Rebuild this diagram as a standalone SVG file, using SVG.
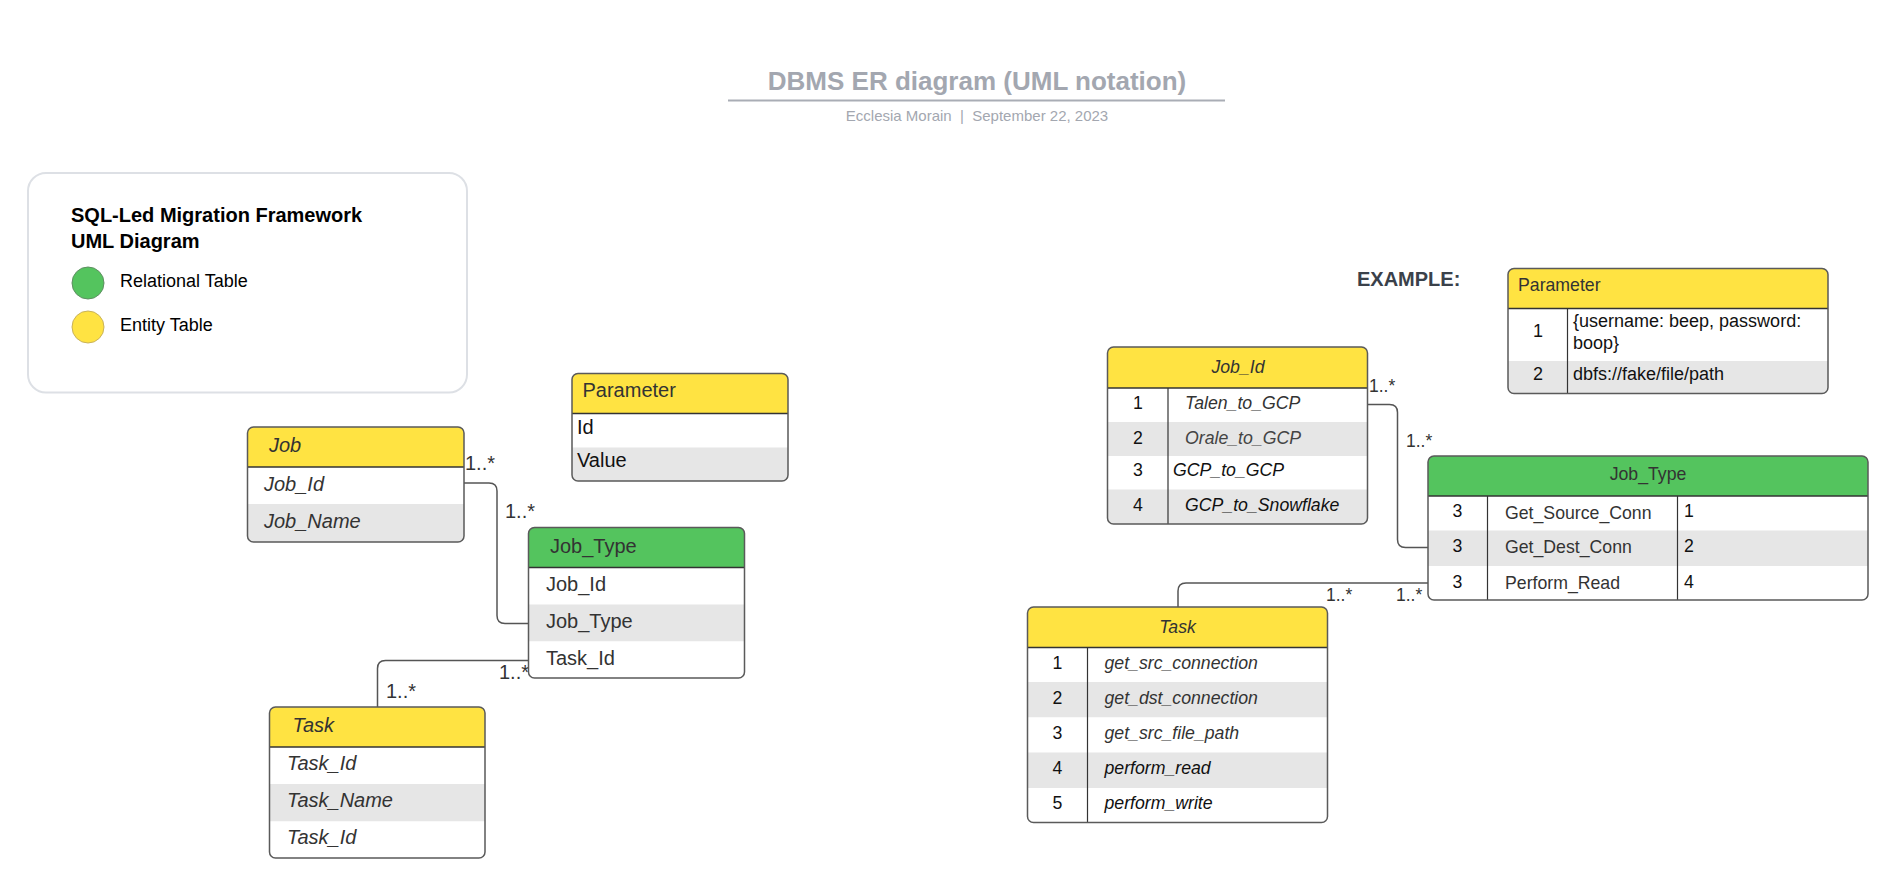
<svg xmlns="http://www.w3.org/2000/svg" width="1904" height="886" viewBox="0 0 1904 886">
<style>
text{font-family:"Liberation Sans",Arial,sans-serif;fill:#333}
.t{font-size:20px}
.r{font-size:17.7px}
.i{font-style:italic}
.k{fill:#111}
.c{text-anchor:middle}
.hy{fill:#ffe342}
.hg{fill:#54c45e}
.w{fill:#fff}
.g{fill:#e6e6e6}
.ol{fill:none;stroke:#5a5a5a;stroke-width:1.5}
.hl{stroke:#333;stroke-width:1.5}
.cl{stroke:#333;stroke-width:1.2}
.conn path{fill:none;stroke:#555;stroke-width:1.5}
.lbl{font-size:20px}
.lblr{font-size:17.5px}
</style>
<defs>
<clipPath id="cJob"><rect x="247.5" y="427" width="216.5" height="115" rx="6"/></clipPath>
<clipPath id="cJT"><rect x="528.5" y="527.5" width="216" height="150.5" rx="6"/></clipPath>
<clipPath id="cTask"><rect x="269.5" y="707" width="215.5" height="151" rx="6"/></clipPath>
<clipPath id="cPar"><rect x="572" y="373.5" width="216" height="107.5" rx="6"/></clipPath>
<clipPath id="cPar2"><rect x="1508" y="268.5" width="320" height="125" rx="6"/></clipPath>
<clipPath id="cJid"><rect x="1107.5" y="347" width="260" height="177" rx="6"/></clipPath>
<clipPath id="cJT2"><rect x="1428" y="456" width="440" height="144" rx="6"/></clipPath>
<clipPath id="cTask2"><rect x="1027.5" y="607" width="300" height="215.5" rx="6"/></clipPath>
</defs>
<rect width="1904" height="886" fill="#fff"/>

<g id="title">
<text x="977" y="90" text-anchor="middle" style="font-size:26px;font-weight:bold;fill:#a3a7b0">DBMS ER diagram (UML notation)</text>
<line x1="728" y1="100.5" x2="1225" y2="100.5" stroke="#a9adb5" stroke-width="2"/>
<text x="977" y="121" text-anchor="middle" style="font-size:15px;fill:#a3a7b0;white-space:pre">Ecclesia Morain  |  September 22, 2023</text>
</g>

<g id="legend">
<rect x="28" y="173" width="439" height="219.5" rx="18" fill="#fff" stroke="#dde0e5" stroke-width="2"/>
<text x="71" y="222" style="font-size:20px;font-weight:bold;fill:#000">SQL-Led Migration Framework</text>
<text x="71" y="248" style="font-size:20px;font-weight:bold;fill:#000">UML Diagram</text>
<circle cx="88" cy="283" r="16" fill="#54c45e" stroke="#5f8f62" stroke-width="1"/>
<text x="120" y="287" style="font-size:18px;fill:#000">Relational Table</text>
<circle cx="88" cy="327" r="16" fill="#ffe342" stroke="#c9b25a" stroke-width="1"/>
<text x="120" y="331" style="font-size:18px;fill:#000">Entity Table</text>
</g>

<g class="conn" id="connectors">
<path d="M464,483 H489 Q497,483 497,491 V615.5 Q497,623.5 505,623.5 H528.5"/>
<path d="M528.5,660.5 H385.5 Q377.5,660.5 377.5,668.5 V707"/>
<path d="M1367.5,404.5 H1389.5 Q1397.5,404.5 1397.5,412.5 V539.5 Q1397.5,547.5 1405.5,547.5 H1428"/>
<path d="M1428,583 H1186 Q1178,583 1178,591 V607"/>
<text class="lbl" x="465" y="470">1..*</text>
<text class="lbl" x="505" y="518">1..*</text>
<text class="lbl" x="499" y="679">1..*</text>
<text class="lbl" x="386" y="698">1..*</text>
<text class="lblr" x="1369" y="392">1..*</text>
<text class="lblr" x="1406" y="447">1..*</text>
<text class="lblr" x="1326" y="601">1..*</text>
<text class="lblr" x="1396" y="601">1..*</text>
</g>

<g id="job">
<g clip-path="url(#cJob)">
<rect class="hy" x="247.5" y="427" width="216.5" height="40"/>
<rect class="w" x="247.5" y="467" width="216.5" height="37"/>
<rect class="g" x="247.5" y="504" width="216.5" height="38"/>
</g>
<line class="hl" x1="247.5" y1="467" x2="464" y2="467"/>
<rect class="ol" x="247.5" y="427" width="216.5" height="115" rx="6"/>
<text class="t i" x="269" y="452">Job</text>
<text class="t i" x="264" y="491">Job_Id</text>
<text class="t i" x="264" y="528">Job_Name</text>
</g>

<g id="job_type">
<g clip-path="url(#cJT)">
<rect class="hg" x="528.5" y="527.5" width="216" height="40"/>
<rect class="w" x="528.5" y="567.5" width="216" height="37"/>
<rect class="g" x="528.5" y="604.5" width="216" height="37"/>
<rect class="w" x="528.5" y="641.5" width="216" height="36.5"/>
</g>
<line class="hl" x1="528.5" y1="567.5" x2="744.5" y2="567.5"/>
<rect class="ol" x="528.5" y="527.5" width="216" height="150.5" rx="6"/>
<text class="t" x="550" y="553">Job_Type</text>
<text class="t" x="546" y="591">Job_Id</text>
<text class="t" x="546" y="628">Job_Type</text>
<text class="t" x="546" y="665">Task_Id</text>
</g>

<g id="task">
<g clip-path="url(#cTask)">
<rect class="hy" x="269.5" y="707" width="215.5" height="40"/>
<rect class="w" x="269.5" y="747" width="215.5" height="37"/>
<rect class="g" x="269.5" y="784" width="215.5" height="37.5"/>
<rect class="w" x="269.5" y="821.5" width="215.5" height="36.5"/>
</g>
<line class="hl" x1="269.5" y1="747" x2="485" y2="747"/>
<rect class="ol" x="269.5" y="707" width="215.5" height="151" rx="6"/>
<text class="t i" x="292.5" y="732">Task</text>
<text class="t i" x="287" y="770">Task_Id</text>
<text class="t i" x="287" y="807">Task_Name</text>
<text class="t i" x="287" y="843.5">Task_Id</text>
</g>

<g id="parameter">
<g clip-path="url(#cPar)">
<rect class="hy" x="572" y="373.5" width="216" height="40"/>
<rect class="w" x="572" y="413.5" width="216" height="34"/>
<rect class="g" x="572" y="447.5" width="216" height="33.5"/>
</g>
<line class="hl" x1="572" y1="413.5" x2="788" y2="413.5"/>
<rect class="ol" x="572" y="373.5" width="216" height="107.5" rx="6"/>
<text class="t" x="582.5" y="397">Parameter</text>
<text class="t k" x="577" y="434">Id</text>
<text class="t k" x="577" y="467">Value</text>
</g>

<g id="example_label">
<text x="1357" y="286" style="font-size:20px;font-weight:bold;fill:#3a414a">EXAMPLE:</text>
</g>

<g id="example_parameter">
<g clip-path="url(#cPar2)">
<rect class="hy" x="1508" y="268.5" width="320" height="40"/>
<rect class="w" x="1508" y="308.5" width="320" height="52.5"/>
<rect class="g" x="1508" y="361" width="320" height="32.5"/>
</g>
<line class="hl" x1="1508" y1="308.5" x2="1828" y2="308.5"/>
<line class="cl" x1="1567.5" y1="308.5" x2="1567.5" y2="393.5"/>
<rect class="ol" x="1508" y="268.5" width="320" height="125" rx="6"/>
<text class="r" x="1518" y="291">Parameter</text>
<text class="r k c" x="1538" y="337" style="font-size:18px">1</text>
<text class="r k" x="1573" y="327" style="font-size:18px">{username: beep, password:</text>
<text class="r k" x="1573" y="348.5" style="font-size:18px">boop}</text>
<text class="r k c" x="1538" y="380" style="font-size:18px">2</text>
<text class="r k" x="1573" y="380" style="font-size:18px">dbfs://fake/file/path</text>
</g>

<g id="example_job_id">
<g clip-path="url(#cJid)">
<rect class="hy" x="1107.5" y="347" width="260" height="41"/>
<rect class="w" x="1107.5" y="388" width="260" height="34"/>
<rect class="g" x="1107.5" y="422" width="260" height="34"/>
<rect class="w" x="1107.5" y="456" width="260" height="33.5"/>
<rect class="g" x="1107.5" y="489.5" width="260" height="34.5"/>
</g>
<line class="hl" x1="1107.5" y1="388" x2="1367.5" y2="388"/>
<line class="cl" x1="1168" y1="388" x2="1168" y2="524"/>
<rect class="ol" x="1107.5" y="347" width="260" height="177" rx="6"/>
<text class="r i c" x="1238" y="372.5">Job_Id</text>
<text class="r k c" x="1138" y="409">1</text>
<text class="r i" x="1185" y="409">Talen_to_GCP</text>
<text class="r k c" x="1138" y="444">2</text>
<text class="r i" x="1185" y="444" style="fill:#444">Orale_to_GCP</text>
<text class="r k c" x="1138" y="476">3</text>
<text class="r i k" x="1173" y="476">GCP_to_GCP</text>
<text class="r k c" x="1138" y="510.5">4</text>
<text class="r i k" x="1185" y="510.5">GCP_to_Snowflake</text>
</g>

<g id="example_job_type">
<g clip-path="url(#cJT2)">
<rect class="hg" x="1428" y="456" width="440" height="40"/>
<rect class="w" x="1428" y="496" width="440" height="34.5"/>
<rect class="g" x="1428" y="530.5" width="440" height="35.5"/>
<rect class="w" x="1428" y="566" width="440" height="34"/>
</g>
<line class="hl" x1="1428" y1="496" x2="1868" y2="496"/>
<line class="cl" x1="1487.5" y1="496" x2="1487.5" y2="600"/>
<line class="cl" x1="1677.5" y1="496" x2="1677.5" y2="600"/>
<rect class="ol" x="1428" y="456" width="440" height="144" rx="6"/>
<text class="r c" x="1648" y="480">Job_Type</text>
<text class="r k c" x="1457.5" y="517">3</text>
<text class="r" x="1505" y="518.5">Get_Source_Conn</text>
<text class="r k" x="1684" y="517">1</text>
<text class="r k c" x="1457.5" y="552">3</text>
<text class="r" x="1505" y="553">Get_Dest_Conn</text>
<text class="r k" x="1684" y="552">2</text>
<text class="r k c" x="1457.5" y="587.5">3</text>
<text class="r" x="1505" y="588.5">Perform_Read</text>
<text class="r k" x="1684" y="587.5">4</text>
</g>

<g id="example_task">
<g clip-path="url(#cTask2)">
<rect class="hy" x="1027.5" y="607" width="300" height="40.5"/>
<rect class="w" x="1027.5" y="647.5" width="300" height="34.5"/>
<rect class="g" x="1027.5" y="682" width="300" height="35.5"/>
<rect class="w" x="1027.5" y="717.5" width="300" height="35"/>
<rect class="g" x="1027.5" y="752.5" width="300" height="35.5"/>
<rect class="w" x="1027.5" y="788" width="300" height="34.5"/>
</g>
<line class="hl" x1="1027.5" y1="647.5" x2="1327.5" y2="647.5"/>
<line class="cl" x1="1087.5" y1="647.5" x2="1087.5" y2="822.5"/>
<rect class="ol" x="1027.5" y="607" width="300" height="215.5" rx="6"/>
<text class="r i c" x="1177.5" y="632.5">Task</text>
<text class="r k c" x="1057.5" y="668.5">1</text>
<text class="r i" x="1104.5" y="668.5">get_src_connection</text>
<text class="r k c" x="1057.5" y="703.5">2</text>
<text class="r i" x="1104.5" y="703.5">get_dst_connection</text>
<text class="r k c" x="1057.5" y="738.5">3</text>
<text class="r i" x="1104.5" y="738.5">get_src_file_path</text>
<text class="r k c" x="1057.5" y="773.5">4</text>
<text class="r i k" x="1104.5" y="773.5">perform_read</text>
<text class="r k c" x="1057.5" y="808.5">5</text>
<text class="r i k" x="1104.5" y="808.5">perform_write</text>
</g>
</svg>
